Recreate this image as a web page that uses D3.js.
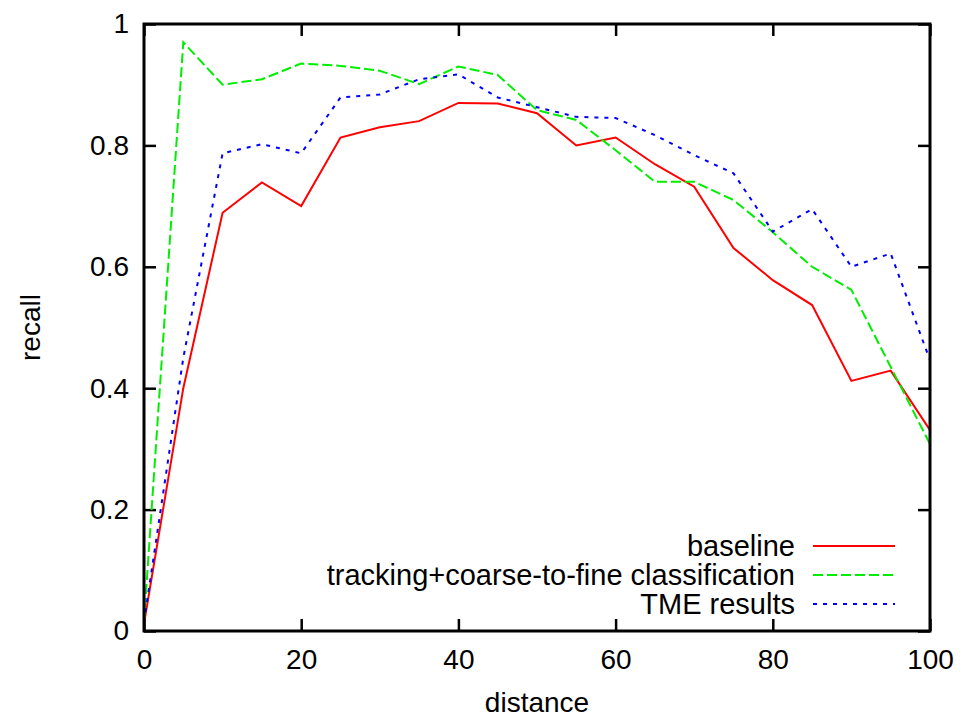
<!DOCTYPE html>
<html>
<head>
<meta charset="utf-8">
<script src="https://cdn.jsdelivr.net/npm/d3@7"></script>
<style>
  body { margin: 0; background: #fff; }
  svg text { font-family: "Liberation Sans", Arial, Helvetica, sans-serif; font-size: 28px; fill: #000; }
  .axis path.domain { display: none; }
  .axis line { stroke: #000; stroke-width: 2.5; }
</style>
</head>
<body>
<svg id="chart" width="964" height="720"></svg>
<script>
// distance values (x)
const distance = [0, 5, 10, 15, 20, 25, 30, 35, 40, 45, 50, 55, 60, 65, 70, 75, 80, 85, 90, 95, 100];

// recall per method
const baseline = [0.012, 0.40, 0.689, 0.739, 0.700, 0.813, 0.830, 0.840, 0.870, 0.869, 0.853, 0.800, 0.813, 0.769, 0.732, 0.631, 0.578, 0.537, 0.412, 0.429, 0.331];
const coarseToFine = [0.015, 0.970, 0.900, 0.909, 0.935, 0.931, 0.923, 0.901, 0.930, 0.916, 0.858, 0.842, 0.792, 0.740, 0.740, 0.710, 0.657, 0.600, 0.562, 0.435, 0.308];
const tmeResults = [0.015, 0.45, 0.787, 0.802, 0.787, 0.879, 0.884, 0.909, 0.917, 0.879, 0.863, 0.847, 0.845, 0.817, 0.784, 0.754, 0.658, 0.695, 0.600, 0.622, 0.446];

const xTicks = [0, 20, 40, 60, 80, 100];
const yTicks = [0, 0.2, 0.4, 0.6, 0.8, 1];

const series = [
  { name: 'baseline', values: baseline, color: '#ff0000', dash: null },
  { name: 'tracking+coarse-to-fine classification', values: coarseToFine, color: '#00ee00', dash: '10,4' },
  { name: 'TME results', values: tmeResults, color: '#0000ff', dash: '4,6' }
];

const svg = d3.select('#chart');
const plotLeft = 144, plotRight = 930, plotTop = 24, plotBottom = 631;

const x = d3.scaleLinear().domain([0, 100]).range([plotLeft, plotRight]);
const y = d3.scaleLinear().domain([0, 1]).range([plotBottom, plotTop]);

// axes with inward ticks
svg.append('g').attr('class', 'axis')
  .attr('transform', `translate(0,${plotBottom})`)
  .call(d3.axisBottom(x).tickValues(xTicks).tickSizeInner(-12).tickSizeOuter(0).tickPadding(18).tickFormat(d3.format('d')));

svg.append('g').attr('class', 'axis')
  .attr('transform', `translate(${plotLeft},0)`)
  .call(d3.axisLeft(y).tickValues(yTicks).tickSizeInner(-12).tickSizeOuter(0).tickPadding(15).tickFormat(d => d === 0 || d === 1 ? d3.format('d')(d) : d3.format('.1f')(d)));

// mirror ticks top / right
svg.append('g').attr('class', 'axis')
  .attr('transform', `translate(0,${plotTop})`)
  .call(d3.axisTop(x).tickValues(xTicks).tickSizeInner(-12).tickSizeOuter(0).tickFormat(''));

svg.append('g').attr('class', 'axis')
  .attr('transform', `translate(${plotRight},0)`)
  .call(d3.axisRight(y).tickValues(yTicks).tickSizeInner(-12).tickSizeOuter(0).tickFormat(''));

svg.selectAll('.axis text').style('font-size', '28px');

// lines
const line = d3.line()
  .x((d, i) => x(distance[i]))
  .y(d => y(d));

svg.selectAll('path.series').data(series)
  .enter().append('path')
    .attr('class', 'series')
    .attr('fill', 'none')
    .attr('stroke', d => d.color)
    .attr('stroke-width', 2)
    .attr('stroke-dasharray', d => d.dash)
    .attr('d', d => line(d.values));

// frame
svg.append('rect')
  .attr('x', plotLeft).attr('y', plotTop)
  .attr('width', plotRight - plotLeft).attr('height', plotBottom - plotTop)
  .attr('fill', 'none').attr('stroke', '#000').attr('stroke-width', 3);

// legend
const legend = svg.append('g');
const rows = legend.selectAll('g').data(series).enter().append('g')
  .attr('transform', (d, i) => `translate(0,${546 + i * 29})`);
rows.append('text')
  .attr('x', 795).attr('dy', '0.35em')
  .attr('text-anchor', 'end')
  .style('font-size', '29px')
  .text(d => d.name);
rows.append('line')
  .attr('x1', 813).attr('x2', 895)
  .attr('stroke', d => d.color)
  .attr('stroke-width', 2)
  .attr('stroke-dasharray', d => d.dash);

// axis titles
svg.append('text')
  .attr('x', (plotLeft + plotRight) / 2).attr('y', 712)
  .attr('text-anchor', 'middle')
  .text('distance');

svg.append('text')
  .attr('transform', `translate(40,${(plotTop + plotBottom) / 2}) rotate(-90)`)
  .attr('text-anchor', 'middle')
  .text('recall');
</script>
</body>
</html>
